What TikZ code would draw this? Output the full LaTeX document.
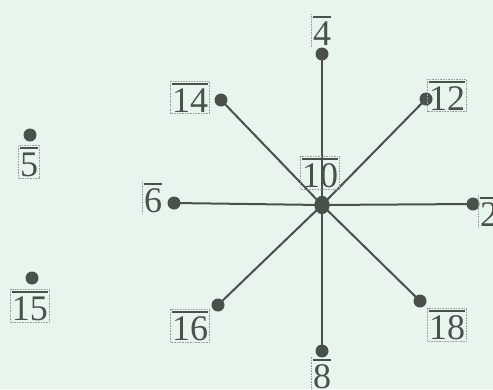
\documentclass[tikz,border=0pt]{standalone}
\usepackage{fontspec}
\setmainfont{Liberation Serif}
\usepackage{xcolor}
\definecolor{bgmint}{HTML}{E8F4EE}
\definecolor{ink}{HTML}{4A504C}
\definecolor{boxgray}{HTML}{9A9F9C}
\newcommand\ovl[1]{\vbox{\hrule height 2pt\kern 3.5pt\hbox{#1}}}
\tikzset{
  dot/.style={circle, fill=ink, inner sep=0pt, minimum size=13pt},
  hub/.style={ellipse, fill=ink, inner sep=0pt, minimum width=15pt, minimum height=18pt},
  edge/.style={draw=ink, line width=2pt},
  lbl/.style={anchor=base, inner sep=1.5pt, text=ink, font=\fontsize{36}{38}\selectfont},
  lblbox/.style={lbl, draw=boxgray, densely dotted, line width=0.6pt},
  sideline/.style={draw=boxgray, densely dotted, line width=0.6pt}
}
\usetikzlibrary{shapes.geometric}
\begin{document}
\begin{tikzpicture}[x=1pt, y=-1pt]
\fill[bgmint] (0,0) rectangle (493,389);
\useasboundingbox (0,0) rectangle (493,389);
% points
\node[hub] (n10) at (322,205) {};
\node[dot] (n4)  at (322,54) {};
\node[dot] (n12) at (426,99) {};
\node[dot] (n14) at (221,100) {};
\node[dot] (n6)  at (174,203) {};
\node[dot] (n2)  at (473,204) {};
\node[dot] (n16) at (218,305) {};
\node[dot] (n18) at (420,301) {};
\node[dot] (n8)  at (322,351) {};
\node[dot] (n5)  at (30,135) {};
\node[dot] (n15) at (32,278) {};
% edges
\foreach \t in {n4,n12,n14,n6,n2,n16,n18,n8}
  \draw[edge] (n10.center) -- (\t.center);
\node[hub] at (n10.center) {};
% labels
\node[lbl] (l4)  at (322,45)  {\ovl{4}};
\node[lblbox] (l14) at (190,112) {\ovl{14}};
\node[lblbox] (l12) at (447,110) {\ovl{12}};
\node[lblbox] (l5)  at (29,176)  {\ovl{5}};
\node[lbl] (l6)  at (153,212) {\ovl{6}};
\node[lbl] (l2)  at (489,226) {\ovl{2}};
\node[lblbox] (l10) at (320,187) {\ovl{10}};
\node[lblbox] (l16) at (190,340) {\ovl{16}};
\node[lblbox] (l18) at (447,339) {\ovl{18}};
\node[lbl] (l8)  at (322,388) {\ovl{8}};
\node[lblbox] (l15) at (30,320) {\ovl{15}};
\foreach \l in {l4,l6,l2,l8}
  \draw[sideline] (\l.north west) -- (\l.south west);
\end{tikzpicture}
\end{document}
